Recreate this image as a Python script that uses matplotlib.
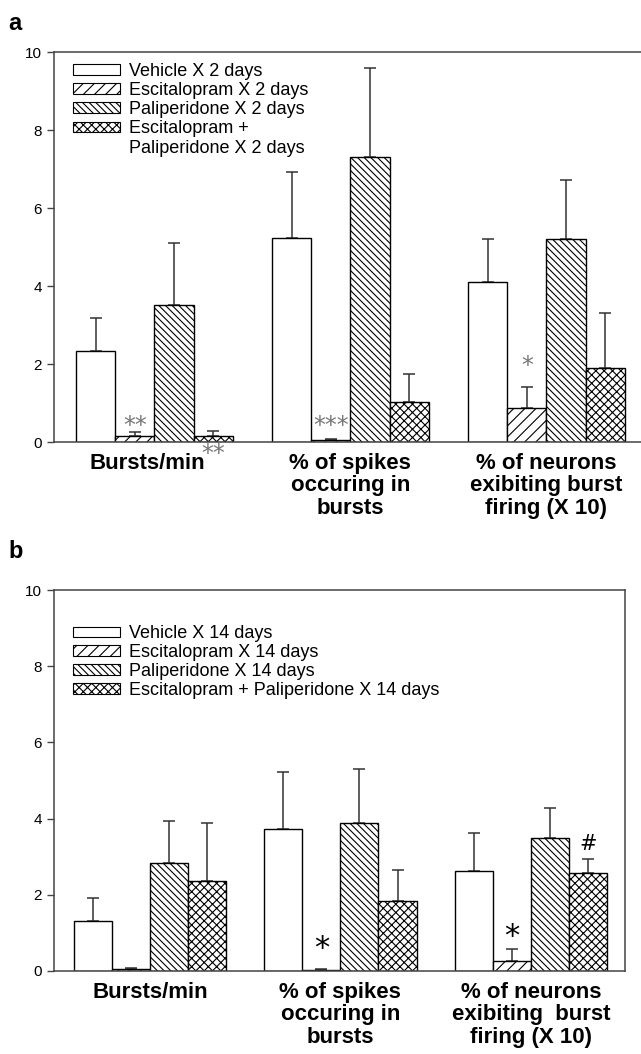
import matplotlib
matplotlib.use('Agg')
import matplotlib.pyplot as plt
from matplotlib.patches import Patch
from matplotlib.transforms import ScaledTranslation
import numpy as np

plt.rcParams['font.family'] = ['Liberation Sans', 'DejaVu Sans']
plt.rcParams['hatch.linewidth'] = 0.8

# panel a: 2-day treatment
cats_a = ['Bursts/min', '% of spikes\noccuring in\nbursts', '% of neurons\nexibiting burst\nfiring (X 10)']
labels_a = ['Vehicle X 2 days', 'Escitalopram X 2 days', 'Paliperidone X 2 days',
            'Escitalopram +', 'Paliperidone X 2 days']
vehicle_a = [2.34, 5.24, 4.10]
vehicle_a_err = [0.85, 1.69, 1.11]
escit_a = [0.16, 0.05, 0.86]
escit_a_err = [0.10, 0.03, 0.54]
pali_a = [3.52, 7.30, 5.21]
pali_a_err = [1.57, 2.30, 1.51]
combo_a = [0.16, 1.02, 1.91]
combo_a_err = [0.13, 0.73, 1.40]

# panel b: 14-day treatment
cats_b = ['Bursts/min', '% of spikes\noccuring in\nbursts', '% of neurons\nexibiting  burst\nfiring (X 10)']
labels_b = ['Vehicle X 14 days', 'Escitalopram X 14 days', 'Paliperidone X 14 days',
            'Escitalopram + Paliperidone X 14 days']
vehicle_b = [1.32, 3.73, 2.62]
vehicle_b_err = [0.60, 1.48, 1.01]
escit_b = [0.04, 0.02, 0.27]
escit_b_err = [0.03, 0.02, 0.31]
pali_b = [2.83, 3.89, 3.48]
pali_b_err = [1.11, 1.41, 0.81]
combo_b = [2.36, 1.85, 2.58]
combo_b_err = [1.52, 0.79, 0.35]

# significance marks: (group, bar, y, text)
marks_a = [(0, 1, 0.42, '**'), (0, 3, -0.30, '**'), (1, 1, 0.42, '***'), (2, 1, 1.95, '*')]
marks_b = [(1, 1, 0.6, '*'), (2, 1, 0.9, '*'), (2, 3, 3.33, '#')]

hatches = ['', '///', '\\\\\\\\\\', 'xxxx']
width = 0.2
spine_col = '#444444'

fig = plt.figure(figsize=(6.41, 10.54), dpi=100)
ax_a = fig.add_axes([54/641, 1-442/1054, 1-54/641, 390/1054])
ax_b = fig.add_axes([54/641, 1-971/1054, (625-54)/641, 381/1054])


def draw(ax, cats, series, errs, xlim):
    x = np.arange(len(cats))
    for j, (vals, err) in enumerate(zip(series, errs)):
        pos = x + (j - 1.5) * width
        ax.bar(pos, vals, width, color='white', edgecolor='black', linewidth=1.0,
               hatch=hatches[j], zorder=2)
        ax.errorbar(pos, vals, yerr=[np.zeros(len(vals)), err], fmt='none',
                    ecolor='#333333', elinewidth=1.1, capsize=4.5, capthick=1.1, zorder=1)
    ax.set_xlim(*xlim)
    ax.set_ylim(0, 10)
    ax.set_yticks(range(0, 11, 2))
    ax.set_xticks(x)
    ax.set_xticklabels(cats, fontsize=16, fontweight='bold', linespacing=1.08)
    ax.tick_params(axis='x', length=0, pad=8)
    ax.tick_params(axis='y', direction='out', length=5, width=1, colors=spine_col,
                   labelsize=11, labelcolor='black')
    for s in ax.spines.values():
        s.set_color(spine_col)
        s.set_linewidth(1.1)


draw(ax_a, cats_a, [vehicle_a, escit_a, pali_a, combo_a],
     [vehicle_a_err, escit_a_err, pali_a_err, combo_a_err], (-0.512, 2.483))
ax_a.spines['right'].set_visible(False)
draw(ax_b, cats_b, [vehicle_b, escit_b, pali_b, combo_b],
     [vehicle_b_err, escit_b_err, pali_b_err, combo_b_err], (-0.503, 2.494))

# the first label in panel a sits a little left of its group
lab = ax_a.get_xticklabels()[0]
lab.set_transform(lab.get_transform() + ScaledTranslation(-0.07, 0, fig.dpi_scale_trans))

for g, j, y, t in marks_a:
    ax_a.text(g + (j - 1.5) * width, y, t, ha='center', va='center', fontsize=17,
              color='#777777', family='DejaVu Sans', clip_on=False)
for g, j, y, t in marks_b:
    ax_b.text(g + (j - 1.5) * width, y, t, ha='center', va='center',
              fontsize=22 if t == '*' else 15, color='black', family='DejaVu Sans')

# legends
handles_a = [Patch(facecolor='white', edgecolor='black', hatch=h, linewidth=0.8) for h in hatches]
handles_a.append(Patch(facecolor='none', edgecolor='none'))
ax_a.legend(handles_a, labels_a, loc='upper left', bbox_to_anchor=(0.032, 0.972),
            frameon=False, fontsize=13, handlelength=2.6, handleheight=0.55,
            handletextpad=0.5, labelspacing=0.12, borderpad=0, borderaxespad=0)
handles_b = [Patch(facecolor='white', edgecolor='black', hatch=h, linewidth=0.8) for h in hatches]
ax_b.legend(handles_b, labels_b, loc='upper left', bbox_to_anchor=(0.034, 0.907),
            frameon=False, fontsize=13, handlelength=2.6, handleheight=0.55,
            handletextpad=0.5, labelspacing=0.1, borderpad=0, borderaxespad=0)

fig.text(8/641, 1-24/1054, 'a', fontsize=17, fontweight='bold', va='center')
fig.text(8/641, 1-552/1054, 'b', fontsize=17, fontweight='bold', va='center')

fig.savefig('out.png', dpi=100)
